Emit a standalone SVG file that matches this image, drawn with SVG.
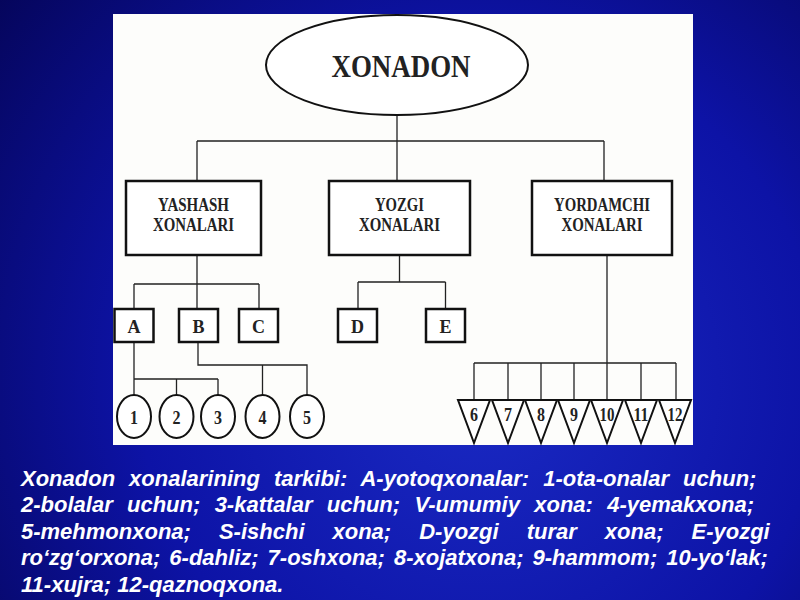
<svg xmlns="http://www.w3.org/2000/svg" width="800" height="600" viewBox="0 0 800 600">
<defs>
<radialGradient id="bg" cx="480" cy="380" r="620" gradientUnits="userSpaceOnUse">
<stop offset="0" stop-color="#1a2ac4"/>
<stop offset="0.55" stop-color="#0d13a6"/>
<stop offset="1" stop-color="#05055a"/>
</radialGradient>
<style>
.con{fill:none;stroke:#222;stroke-width:1.3}
.box{fill:#fff;stroke:#111;stroke-width:2.5}
.shp{fill:#fff;stroke:#111;stroke-width:2}
.t{font-family:"Liberation Serif","Times New Roman",serif;font-weight:bold;fill:#222;text-anchor:middle}
.cap{font-family:"Liberation Sans",Arial,sans-serif;font-weight:bold;font-style:italic;font-size:22px;fill:#fff}
</style>
</defs>
<rect x="0" y="0" width="800" height="600" fill="url(#bg)"/>
<rect x="113" y="14" width="580" height="431" fill="#fdfdfb"/>

<g id="connectors">
<path class="con" d="M397 116V141M197 141H604M197 141V180M397 141V180M604 141V180"/>
<path class="con" d="M197 255V309M134 284H259M134 284V309M259 284V309"/>
<path class="con" d="M134 342V395M134 379H218M176.5 379V395M218 379V395"/>
<path class="con" d="M198 342V365H307V395M262.5 365V395"/>
<path class="con" d="M399.5 255V282M358 282H445.5M358 282V309M445.5 282V309"/>
<path class="con" d="M607 255V363M474 363H676M474 363V400M508 363V400M541 363V400M574 363V400M607 363V400M641 363V400M676 363V400"/>
</g>

<g id="xonadon">
<ellipse class="shp" cx="397" cy="65" rx="131" ry="50"/>
<text class="t" x="401" y="77" font-size="32" textLength="139" lengthAdjust="spacingAndGlyphs">XONADON</text>
</g>
<g id="yashash">
<rect class="box" x="126" y="181" width="135" height="74"/>
<text class="t" x="193.5" y="210.5" font-size="19" textLength="71" lengthAdjust="spacingAndGlyphs">YASHASH</text>
<text class="t" x="193.5" y="230.5" font-size="19" textLength="81" lengthAdjust="spacingAndGlyphs">XONALARI</text>
</g>
<g id="yozgi">
<rect class="box" x="329" y="181" width="141" height="74"/>
<text class="t" x="399.5" y="210.5" font-size="19" textLength="49" lengthAdjust="spacingAndGlyphs">YOZGI</text>
<text class="t" x="399.5" y="230.5" font-size="19" textLength="81" lengthAdjust="spacingAndGlyphs">XONALARI</text>
</g>
<g id="yordamchi">
<rect class="box" x="532" y="181" width="140" height="74"/>
<text class="t" x="602" y="210.5" font-size="19" textLength="96" lengthAdjust="spacingAndGlyphs">YORDAMCHI</text>
<text class="t" x="602" y="230.5" font-size="19" textLength="81" lengthAdjust="spacingAndGlyphs">XONALARI</text>
</g>

<g id="A"><rect class="box" x="114.5" y="309" width="39" height="33"/><text class="t" x="134" y="332.5" font-size="18">A</text></g>
<g id="B"><rect class="box" x="179" y="309" width="39" height="33"/><text class="t" x="198.5" y="332.5" font-size="18">B</text></g>
<g id="C"><rect class="box" x="239" y="309" width="39" height="33"/><text class="t" x="258.5" y="332.5" font-size="18">C</text></g>
<g id="D"><rect class="box" x="338" y="309" width="39" height="33"/><text class="t" x="357.5" y="332.5" font-size="18">D</text></g>
<g id="E"><rect class="box" x="426" y="309" width="39" height="33"/><text class="t" x="445.5" y="332.5" font-size="18">E</text></g>

<g id="n1"><ellipse class="shp" cx="134" cy="416.5" rx="17" ry="21.5"/><text class="t" x="134" y="423.5" font-size="18" textLength="8" lengthAdjust="spacingAndGlyphs">1</text></g>
<g id="n2"><ellipse class="shp" cx="176.5" cy="416.5" rx="17" ry="21.5"/><text class="t" x="176.5" y="423.5" font-size="18" textLength="8" lengthAdjust="spacingAndGlyphs">2</text></g>
<g id="n3"><ellipse class="shp" cx="218" cy="416.5" rx="17" ry="21.5"/><text class="t" x="218" y="423.5" font-size="18" textLength="8" lengthAdjust="spacingAndGlyphs">3</text></g>
<g id="n4"><ellipse class="shp" cx="262.5" cy="416.5" rx="17" ry="21.5"/><text class="t" x="262.5" y="423.5" font-size="18" textLength="8" lengthAdjust="spacingAndGlyphs">4</text></g>
<g id="n5"><ellipse class="shp" cx="307" cy="416.5" rx="17" ry="21.5"/><text class="t" x="307" y="423.5" font-size="18" textLength="8" lengthAdjust="spacingAndGlyphs">5</text></g>

<g id="n6"><path class="shp" d="M458 400H490L474 443Z"/><text class="t" x="474" y="421" font-size="18" textLength="8" lengthAdjust="spacingAndGlyphs">6</text></g>
<g id="n7"><path class="shp" d="M492 400H524L508 443Z"/><text class="t" x="508" y="421" font-size="18" textLength="8" lengthAdjust="spacingAndGlyphs">7</text></g>
<g id="n8"><path class="shp" d="M525 400H557L541 443Z"/><text class="t" x="541" y="421" font-size="18" textLength="8" lengthAdjust="spacingAndGlyphs">8</text></g>
<g id="n9"><path class="shp" d="M558 400H590L574 443Z"/><text class="t" x="574" y="421" font-size="18" textLength="8" lengthAdjust="spacingAndGlyphs">9</text></g>
<g id="n10"><path class="shp" d="M591 400H623L607 443Z"/><text class="t" x="607" y="421" font-size="18" textLength="15" lengthAdjust="spacingAndGlyphs">10</text></g>
<g id="n11"><path class="shp" d="M625 400H657L641 443Z"/><text class="t" x="641" y="421" font-size="18" textLength="15" lengthAdjust="spacingAndGlyphs">11</text></g>
<g id="n12"><path class="shp" d="M659 400H691L675 443Z"/><text class="t" x="675" y="421" font-size="18" textLength="15" lengthAdjust="spacingAndGlyphs">12</text></g>

<g id="caption">
<text class="cap" x="21" y="485.5" word-spacing="7.9">Xonadon xonalarining tarkibi: A-yotoqxonalar: 1-ota-onalar uchun;</text>
<text class="cap" x="21" y="512" word-spacing="8.2">2-bolalar uchun; 3-kattalar uchun; V-umumiy xona: 4-yemakxona;</text>
<text class="cap" x="21" y="538.5" word-spacing="21.9">5-mehmonxona; S-ishchi xona; D-yozgi turar xona; E-yozgi</text>
<text class="cap" x="21" y="565" word-spacing="2.9">ro‘zg‘orxona; 6-dahliz; 7-oshxona; 8-xojatxona; 9-hammom; 10-yo‘lak;</text>
<text class="cap" x="21" y="591.5">11-xujra; 12-qaznoqxona.</text>
</g>
</svg>
